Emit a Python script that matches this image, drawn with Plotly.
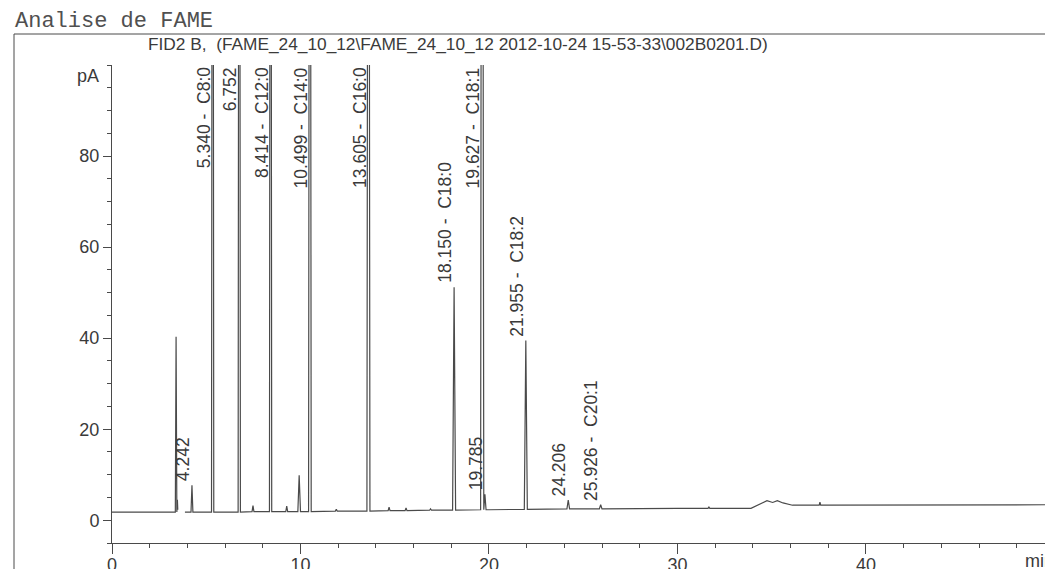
import plotly.graph_objects as go

# ---------------- data ----------------
title_text = "Analise de FAME"
subtitle_text = "FID2 B,  (FAME_24_10_12\\FAME_24_10_12 2012-10-24 15-53-33\\002B0201.D)"

# baseline knots of the signal (min, pA)
baseline_t = [0.0, 3.30, 3.87, 10.0, 20.0, 30.0, 33.9, 34.4, 34.75, 35.05, 35.3, 35.6, 36.1, 49.5]
baseline_y = [1.8, 1.8, 1.8, 1.9, 2.3, 2.6, 2.6, 3.6, 4.3, 3.9, 4.3, 3.8, 3.3, 3.4]
# short interruption of the trace just after the solvent peak
gap_t = [3.55]

# peaks: retention time, apex (pA), local baseline, half width (min)
peak_rt = [3.40, 3.47, 4.242, 5.340, 6.752, 7.48, 8.414, 9.27, 9.93, 10.499, 11.9,
           13.605, 14.7, 15.6, 16.9, 18.150, 19.627, 19.785, 21.955, 24.206, 25.926,
           31.67, 37.56]
peak_apex = [40.3, 4.5, 7.7, 300, 300, 3.2, 300, 3.1, 9.9, 300, 2.4,
             300, 2.9, 2.7, 2.5, 51.2, 300, 5.7, 39.5, 4.4, 3.4,
             2.9, 4.0]
peak_base = [1.8, 2.3, 1.8, 1.8, 1.8, 1.9, 1.9, 1.9, 1.9, 1.9, 2.0,
             2.0, 2.1, 2.1, 2.2, 2.2, 2.3, 2.3, 2.4, 2.5, 2.5,
             2.6, 3.3]
peak_hw = [0.04, 0.02, 0.05, 0.06, 0.06, 0.05, 0.06, 0.05, 0.07, 0.07, 0.05,
           0.08, 0.05, 0.05, 0.05, 0.08, 0.07, 0.06, 0.08, 0.07, 0.07,
           0.05, 0.04]

# peak labels
label_rt = [4.242, 5.340, 6.752, 8.414, 10.499, 13.605, 18.150, 19.627, 19.785,
            21.955, 24.206, 25.926]
label_text = ["4.242", "5.340 -  C8:0", "6.752", "8.414 -  C12:0", "10.499 -  C14:0",
              "13.605 -  C16:0", "18.150 -  C18:0", "19.627 -  C18:1", "19.785",
              "21.955 -  C18:2", "24.206", "25.926 -  C20:1"]

x_range = [0, 49.5]
y_range = [-5, 100]
y_tickvals = [0, 20, 40, 60, 80]
x_tickvals = [0, 10, 20, 30, 40]

# ---------------- build signal from the tables ----------------
pts = [(t, y) for t, y in zip(baseline_t, baseline_y)]
pts += [(t, None) for t in gap_t]
for rt, ap, b, hw in zip(peak_rt, peak_apex, peak_base, peak_hw):
    pts += [(rt - hw, b), (rt, ap), (rt + hw, b)]
pts.sort(key=lambda p: p[0])
sig_t = [p[0] for p in pts]
sig_y = [p[1] for p in pts]

INK = "#4a4a4a"
TXT = "#3a3a3a"

fig = go.Figure()
fig.add_trace(go.Scatter(x=sig_t, y=sig_y, mode="lines",
                         line=dict(color=INK, width=1.2),
                         connectgaps=False, hoverinfo="skip", showlegend=False))

# layout geometry
W, H = 1045, 569
ML, MR, MT, MB = 112, 0, 65, 26
PW, PH = W - ML - MR, H - MT - MB


def px_x(px):
    return (px - ML) / PW


def px_y(py):
    return (H - MB - py) / PH


LABEL_FONT = dict(family="Liberation Sans", size=17.5, color=TXT)
ann = []
for rt, txt in zip(label_rt, label_text):
    i = min(range(len(peak_rt)), key=lambda k: abs(peak_rt[k] - rt))
    ap = peak_apex[i]
    if ap >= y_range[1]:
        ann.append(dict(x=rt, y=y_range[1], xref="x", yref="y", text=txt,
                        textangle=-90, showarrow=False, xanchor="center",
                        yanchor="top", xshift=-9, yshift=-1, borderpad=0,
                        font=LABEL_FONT))
    else:
        ann.append(dict(x=rt, y=ap, xref="x", yref="y", text=txt,
                        textangle=-90, showarrow=False, xanchor="center",
                        yanchor="bottom", xshift=-9, yshift=3, borderpad=0,
                        font=LABEL_FONT))

ann.append(dict(x=px_x(13), y=px_y(21), xref="paper", yref="paper", text=title_text,
                showarrow=False, xanchor="left", yanchor="middle",
                font=dict(family="Liberation Mono", size=22, color="#505050")))
ann.append(dict(x=px_x(146), y=px_y(44), xref="paper", yref="paper", text=subtitle_text,
                showarrow=False, xanchor="left", yanchor="middle",
                font=dict(family="Liberation Sans", size=17.3, color=TXT)))
ann.append(dict(x=px_x(101), y=px_y(76), xref="paper", yref="paper", text="pA",
                showarrow=False, xanchor="right", yanchor="middle",
                font=dict(family="Liberation Sans", size=18, color=TXT)))
ann.append(dict(x=px_x(1023), y=px_y(561), xref="paper", yref="paper", text="min",
                showarrow=False, xanchor="left", yanchor="middle",
                font=dict(family="Liberation Sans", size=18, color=TXT)))

shapes = [
    dict(type="line", xref="paper", yref="paper", x0=px_x(14), y0=px_y(34),
         x1=px_x(W + 5), y1=px_y(34), line=dict(color=INK, width=1)),
    dict(type="line", xref="paper", yref="paper", x0=px_x(14), y0=px_y(34),
         x1=px_x(14), y1=px_y(H + 5), line=dict(color=INK, width=1)),
]

fig.update_layout(
    width=W, height=H, autosize=False,
    margin=dict(l=ML, r=MR, t=MT, b=MB, pad=0, autoexpand=False),
    paper_bgcolor="white", plot_bgcolor="white",
    annotations=ann, shapes=shapes, showlegend=False,
    font=dict(family="Liberation Sans", color=TXT),
    xaxis=dict(range=x_range, tickmode="array", tickvals=x_tickvals,
               automargin=False, ticklabelstandoff=-5,
               ticks="outside", ticklen=10, tickcolor=INK, tickwidth=1,
               showline=True, linecolor=INK, linewidth=1,
               showgrid=False, zeroline=False,
               tickfont=dict(family="Liberation Sans", size=18, color=TXT),
               minor=dict(tickmode="linear", tick0=0, dtick=2, ticks="outside",
                          ticklen=4, tickcolor=INK, showgrid=False)),
    yaxis=dict(range=y_range, tickmode="array", tickvals=y_tickvals,
               automargin=False,
               ticks="outside", ticklen=8, tickcolor=INK, tickwidth=1,
               showline=True, linecolor=INK, linewidth=1,
               showgrid=False, zeroline=False,
               tickfont=dict(family="Liberation Sans", size=18, color=TXT),
               minor=dict(tickmode="linear", tick0=0, dtick=5, ticks="outside",
                          ticklen=4, tickcolor=INK, showgrid=False)),
)

page_fix = (
    "var d=document.documentElement,b=document.body;"
    "[d,b].forEach(function(e){e.style.margin='0';e.style.padding='0';"
    "e.style.overflow='hidden';e.style.width='1045px';e.style.height='569px';});"
    "var g=document.querySelector('.plotly-graph-div');"
    "g.style.position='absolute';g.style.left='0';g.style.top='0';"
)

fig.write_html("out.html", config={"displayModeBar": False}, post_script=page_fix)
